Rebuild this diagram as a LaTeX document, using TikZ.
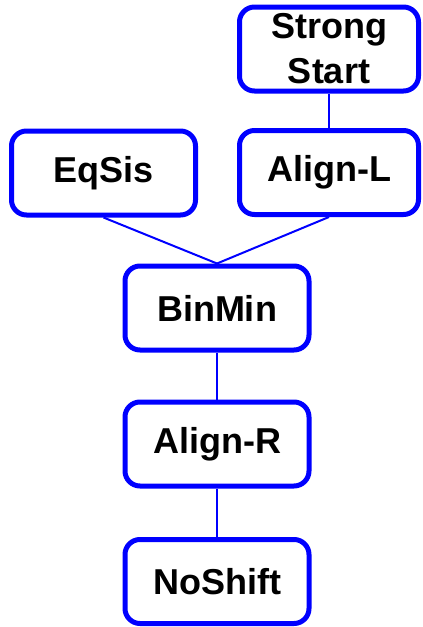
\documentclass[tikz,border=0pt]{standalone}
\usepackage{fontspec}
\setmainfont{Liberation Sans}
\begin{document}
\begin{tikzpicture}[x=1pt,y=-1pt,
  stepbox/.style={draw=blue, line width=5pt, rounded corners=15pt, fill=white,
    font=\fontsize{36}{45}\selectfont\bfseries, align=center, inner sep=0pt,
    minimum width=184pt, minimum height=84pt},
  link/.style={draw=blue, line width=2pt}]
\useasboundingbox (0,0) rectangle (423,627);
% constraint boxes
\node[stepbox, minimum width=179pt] (strong) at (329,49) {Strong\\Start};
\node[stepbox, minimum width=179pt] (alignl) at (329,172.5) {Align-L};
\node[stepbox] (eqsis) at (103.5,173) {EqSis};
\node[stepbox] (binmin) at (217,308) {BinMin};
\node[stepbox] (alignr) at (217,444) {Align-R};
\node[stepbox] (noshift) at (217,581.5) {NoShift};
% ranking links
\draw[link] (strong.south) -- (alignl.north);
\draw[link] (eqsis.south) -- (binmin.north);
\draw[link] (alignl.south) -- (binmin.north);
\draw[link] (binmin.south) -- (alignr.north);
\draw[link] (alignr.south) -- (noshift.north);
\end{tikzpicture}
\end{document}
